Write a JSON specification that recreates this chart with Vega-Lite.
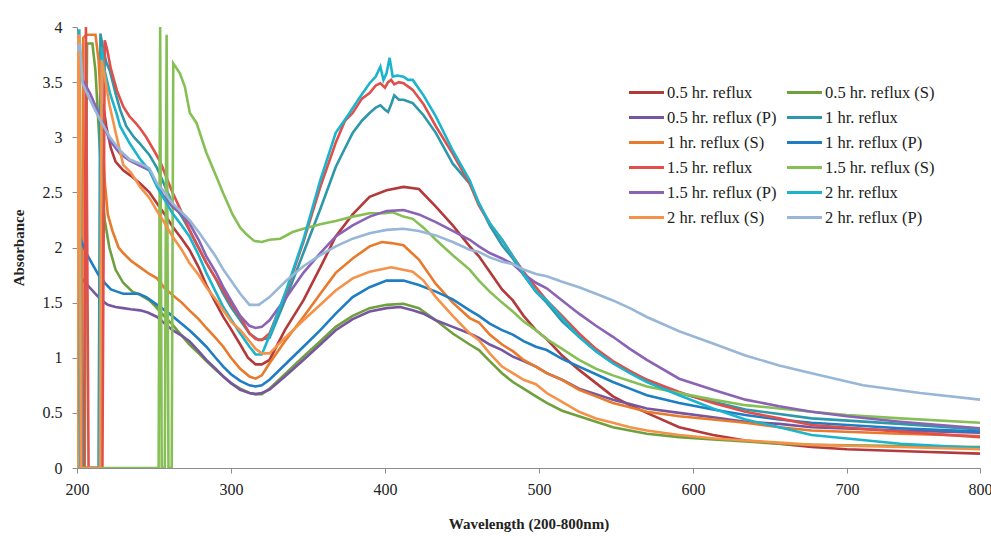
{
"$schema":"https://vega.github.io/schema/vega-lite/v6.json",
"width":903,"height":441,
"autosize":{"type":"none"},
"padding":{"left":77,"top":27,"right":11,"bottom":68},
"background":"white",
"config":{"view":{"stroke":null},"font":"Liberation Serif"},
"data":{"values":[
{"s":"0.5 hr. reflux","x":200,"y":0},{"s":"0.5 hr. reflux","x":215.5,"y":0},{"s":"0.5 hr. reflux","x":217,"y":3.3},{"s":"0.5 hr. reflux","x":219,"y":3.1},{"s":"0.5 hr. reflux","x":222,"y":2.9},{"s":"0.5 hr. reflux","x":225,"y":2.78},{"s":"0.5 hr. reflux","x":230,"y":2.7},{"s":"0.5 hr. reflux","x":235,"y":2.65},{"s":"0.5 hr. reflux","x":241,"y":2.58},{"s":"0.5 hr. reflux","x":247,"y":2.5},{"s":"0.5 hr. reflux","x":252,"y":2.4},{"s":"0.5 hr. reflux","x":257,"y":2.3},{"s":"0.5 hr. reflux","x":262,"y":2.19},{"s":"0.5 hr. reflux","x":268,"y":2.08},{"s":"0.5 hr. reflux","x":273,"y":1.98},{"s":"0.5 hr. reflux","x":279,"y":1.82},{"s":"0.5 hr. reflux","x":284,"y":1.66},{"s":"0.5 hr. reflux","x":290,"y":1.5},{"s":"0.5 hr. reflux","x":295,"y":1.37},{"s":"0.5 hr. reflux","x":300,"y":1.26},{"s":"0.5 hr. reflux","x":306,"y":1.12},{"s":"0.5 hr. reflux","x":311,"y":1.0},{"s":"0.5 hr. reflux","x":316,"y":0.94},{"s":"0.5 hr. reflux","x":320,"y":0.94},{"s":"0.5 hr. reflux","x":325,"y":0.98},{"s":"0.5 hr. reflux","x":335,"y":1.25},{"s":"0.5 hr. reflux","x":347,"y":1.52},{"s":"0.5 hr. reflux","x":358,"y":1.82},{"s":"0.5 hr. reflux","x":368,"y":2.1},{"s":"0.5 hr. reflux","x":379,"y":2.3},{"s":"0.5 hr. reflux","x":390,"y":2.46},{"s":"0.5 hr. reflux","x":401,"y":2.52},{"s":"0.5 hr. reflux","x":412,"y":2.55},{"s":"0.5 hr. reflux","x":422,"y":2.53},{"s":"0.5 hr. reflux","x":433,"y":2.37},{"s":"0.5 hr. reflux","x":444,"y":2.2},{"s":"0.5 hr. reflux","x":455,"y":2.01},{"s":"0.5 hr. reflux","x":461,"y":1.92},{"s":"0.5 hr. reflux","x":468,"y":1.78},{"s":"0.5 hr. reflux","x":476,"y":1.62},{"s":"0.5 hr. reflux","x":483,"y":1.52},{"s":"0.5 hr. reflux","x":490,"y":1.38},{"s":"0.5 hr. reflux","x":498,"y":1.25},{"s":"0.5 hr. reflux","x":505,"y":1.17},{"s":"0.5 hr. reflux","x":515,"y":1.02},{"s":"0.5 hr. reflux","x":526,"y":0.89},{"s":"0.5 hr. reflux","x":537,"y":0.77},{"s":"0.5 hr. reflux","x":548,"y":0.65},{"s":"0.5 hr. reflux","x":559,"y":0.57},{"s":"0.5 hr. reflux","x":570,"y":0.5},{"s":"0.5 hr. reflux","x":591,"y":0.37},{"s":"0.5 hr. reflux","x":613,"y":0.3},{"s":"0.5 hr. reflux","x":634,"y":0.25},{"s":"0.5 hr. reflux","x":656,"y":0.22},{"s":"0.5 hr. reflux","x":677,"y":0.19},{"s":"0.5 hr. reflux","x":700,"y":0.17},{"s":"0.5 hr. reflux","x":750,"y":0.15},{"s":"0.5 hr. reflux","x":800,"y":0.13},
{"s":"0.5 hr. reflux (S)","x":200,"y":0},{"s":"0.5 hr. reflux (S)","x":205,"y":0},{"s":"0.5 hr. reflux (S)","x":206.5,"y":3.85},{"s":"0.5 hr. reflux (S)","x":210,"y":3.85},{"s":"0.5 hr. reflux (S)","x":212,"y":3.6},{"s":"0.5 hr. reflux (S)","x":214,"y":3.1},{"s":"0.5 hr. reflux (S)","x":216,"y":2.6},{"s":"0.5 hr. reflux (S)","x":218,"y":2.25},{"s":"0.5 hr. reflux (S)","x":221,"y":2.0},{"s":"0.5 hr. reflux (S)","x":225,"y":1.8},{"s":"0.5 hr. reflux (S)","x":230,"y":1.68},{"s":"0.5 hr. reflux (S)","x":236,"y":1.6},{"s":"0.5 hr. reflux (S)","x":241,"y":1.57},{"s":"0.5 hr. reflux (S)","x":247,"y":1.52},{"s":"0.5 hr. reflux (S)","x":252,"y":1.45},{"s":"0.5 hr. reflux (S)","x":257,"y":1.37},{"s":"0.5 hr. reflux (S)","x":262,"y":1.3},{"s":"0.5 hr. reflux (S)","x":268,"y":1.2},{"s":"0.5 hr. reflux (S)","x":273,"y":1.12},{"s":"0.5 hr. reflux (S)","x":279,"y":1.04},{"s":"0.5 hr. reflux (S)","x":284,"y":0.97},{"s":"0.5 hr. reflux (S)","x":290,"y":0.89},{"s":"0.5 hr. reflux (S)","x":295,"y":0.83},{"s":"0.5 hr. reflux (S)","x":300,"y":0.77},{"s":"0.5 hr. reflux (S)","x":306,"y":0.72},{"s":"0.5 hr. reflux (S)","x":312,"y":0.68},{"s":"0.5 hr. reflux (S)","x":316,"y":0.67},{"s":"0.5 hr. reflux (S)","x":320,"y":0.67},{"s":"0.5 hr. reflux (S)","x":325,"y":0.72},{"s":"0.5 hr. reflux (S)","x":335,"y":0.85},{"s":"0.5 hr. reflux (S)","x":347,"y":1.01},{"s":"0.5 hr. reflux (S)","x":358,"y":1.15},{"s":"0.5 hr. reflux (S)","x":368,"y":1.28},{"s":"0.5 hr. reflux (S)","x":379,"y":1.38},{"s":"0.5 hr. reflux (S)","x":390,"y":1.45},{"s":"0.5 hr. reflux (S)","x":401,"y":1.48},{"s":"0.5 hr. reflux (S)","x":412,"y":1.49},{"s":"0.5 hr. reflux (S)","x":422,"y":1.45},{"s":"0.5 hr. reflux (S)","x":433,"y":1.34},{"s":"0.5 hr. reflux (S)","x":444,"y":1.22},{"s":"0.5 hr. reflux (S)","x":455,"y":1.12},{"s":"0.5 hr. reflux (S)","x":461,"y":1.07},{"s":"0.5 hr. reflux (S)","x":468,"y":0.97},{"s":"0.5 hr. reflux (S)","x":476,"y":0.86},{"s":"0.5 hr. reflux (S)","x":483,"y":0.78},{"s":"0.5 hr. reflux (S)","x":490,"y":0.72},{"s":"0.5 hr. reflux (S)","x":498,"y":0.65},{"s":"0.5 hr. reflux (S)","x":505,"y":0.59},{"s":"0.5 hr. reflux (S)","x":515,"y":0.52},{"s":"0.5 hr. reflux (S)","x":526,"y":0.47},{"s":"0.5 hr. reflux (S)","x":537,"y":0.42},{"s":"0.5 hr. reflux (S)","x":548,"y":0.37},{"s":"0.5 hr. reflux (S)","x":559,"y":0.34},{"s":"0.5 hr. reflux (S)","x":570,"y":0.31},{"s":"0.5 hr. reflux (S)","x":591,"y":0.28},{"s":"0.5 hr. reflux (S)","x":613,"y":0.26},{"s":"0.5 hr. reflux (S)","x":634,"y":0.24},{"s":"0.5 hr. reflux (S)","x":656,"y":0.22},{"s":"0.5 hr. reflux (S)","x":677,"y":0.21},{"s":"0.5 hr. reflux (S)","x":740,"y":0.2},{"s":"0.5 hr. reflux (S)","x":800,"y":0.19},
{"s":"0.5 hr. reflux (P)","x":200,"y":1.81},{"s":"0.5 hr. reflux (P)","x":204,"y":1.7},{"s":"0.5 hr. reflux (P)","x":208,"y":1.64},{"s":"0.5 hr. reflux (P)","x":212,"y":1.58},{"s":"0.5 hr. reflux (P)","x":216,"y":1.52},{"s":"0.5 hr. reflux (P)","x":220,"y":1.48},{"s":"0.5 hr. reflux (P)","x":225,"y":1.46},{"s":"0.5 hr. reflux (P)","x":230,"y":1.45},{"s":"0.5 hr. reflux (P)","x":235,"y":1.44},{"s":"0.5 hr. reflux (P)","x":241,"y":1.43},{"s":"0.5 hr. reflux (P)","x":246,"y":1.41},{"s":"0.5 hr. reflux (P)","x":252,"y":1.37},{"s":"0.5 hr. reflux (P)","x":257,"y":1.31},{"s":"0.5 hr. reflux (P)","x":262,"y":1.25},{"s":"0.5 hr. reflux (P)","x":268,"y":1.2},{"s":"0.5 hr. reflux (P)","x":273,"y":1.15},{"s":"0.5 hr. reflux (P)","x":279,"y":1.06},{"s":"0.5 hr. reflux (P)","x":284,"y":0.98},{"s":"0.5 hr. reflux (P)","x":290,"y":0.9},{"s":"0.5 hr. reflux (P)","x":295,"y":0.83},{"s":"0.5 hr. reflux (P)","x":300,"y":0.77},{"s":"0.5 hr. reflux (P)","x":306,"y":0.71},{"s":"0.5 hr. reflux (P)","x":312,"y":0.68},{"s":"0.5 hr. reflux (P)","x":316,"y":0.67},{"s":"0.5 hr. reflux (P)","x":320,"y":0.68},{"s":"0.5 hr. reflux (P)","x":325,"y":0.71},{"s":"0.5 hr. reflux (P)","x":335,"y":0.83},{"s":"0.5 hr. reflux (P)","x":347,"y":0.98},{"s":"0.5 hr. reflux (P)","x":358,"y":1.12},{"s":"0.5 hr. reflux (P)","x":368,"y":1.25},{"s":"0.5 hr. reflux (P)","x":379,"y":1.35},{"s":"0.5 hr. reflux (P)","x":390,"y":1.42},{"s":"0.5 hr. reflux (P)","x":401,"y":1.45},{"s":"0.5 hr. reflux (P)","x":410,"y":1.46},{"s":"0.5 hr. reflux (P)","x":418,"y":1.43},{"s":"0.5 hr. reflux (P)","x":425,"y":1.4},{"s":"0.5 hr. reflux (P)","x":433,"y":1.34},{"s":"0.5 hr. reflux (P)","x":444,"y":1.28},{"s":"0.5 hr. reflux (P)","x":455,"y":1.22},{"s":"0.5 hr. reflux (P)","x":461,"y":1.18},{"s":"0.5 hr. reflux (P)","x":468,"y":1.12},{"s":"0.5 hr. reflux (P)","x":476,"y":1.07},{"s":"0.5 hr. reflux (P)","x":483,"y":1.01},{"s":"0.5 hr. reflux (P)","x":490,"y":0.97},{"s":"0.5 hr. reflux (P)","x":498,"y":0.92},{"s":"0.5 hr. reflux (P)","x":505,"y":0.86},{"s":"0.5 hr. reflux (P)","x":515,"y":0.8},{"s":"0.5 hr. reflux (P)","x":526,"y":0.72},{"s":"0.5 hr. reflux (P)","x":537,"y":0.67},{"s":"0.5 hr. reflux (P)","x":548,"y":0.62},{"s":"0.5 hr. reflux (P)","x":559,"y":0.58},{"s":"0.5 hr. reflux (P)","x":570,"y":0.54},{"s":"0.5 hr. reflux (P)","x":591,"y":0.5},{"s":"0.5 hr. reflux (P)","x":613,"y":0.46},{"s":"0.5 hr. reflux (P)","x":634,"y":0.42},{"s":"0.5 hr. reflux (P)","x":656,"y":0.4},{"s":"0.5 hr. reflux (P)","x":677,"y":0.37},{"s":"0.5 hr. reflux (P)","x":740,"y":0.34},{"s":"0.5 hr. reflux (P)","x":800,"y":0.32},
{"s":"1 hr. reflux","x":200,"y":0},{"s":"1 hr. reflux","x":200.8,"y":3.9},{"s":"1 hr. reflux","x":202,"y":0},{"s":"1 hr. reflux","x":214,"y":0},{"s":"1 hr. reflux","x":215.2,"y":3.94},{"s":"1 hr. reflux","x":217,"y":3.8},{"s":"1 hr. reflux","x":219,"y":3.68},{"s":"1 hr. reflux","x":221.4,"y":3.6},{"s":"1 hr. reflux","x":225,"y":3.4},{"s":"1 hr. reflux","x":228,"y":3.25},{"s":"1 hr. reflux","x":232,"y":3.1},{"s":"1 hr. reflux","x":237,"y":3.0},{"s":"1 hr. reflux","x":241,"y":2.94},{"s":"1 hr. reflux","x":247,"y":2.84},{"s":"1 hr. reflux","x":252,"y":2.72},{"s":"1 hr. reflux","x":257,"y":2.56},{"s":"1 hr. reflux","x":262,"y":2.4},{"s":"1 hr. reflux","x":268,"y":2.28},{"s":"1 hr. reflux","x":273,"y":2.16},{"s":"1 hr. reflux","x":279,"y":2.0},{"s":"1 hr. reflux","x":284,"y":1.86},{"s":"1 hr. reflux","x":290,"y":1.72},{"s":"1 hr. reflux","x":295,"y":1.58},{"s":"1 hr. reflux","x":300,"y":1.46},{"s":"1 hr. reflux","x":306,"y":1.34},{"s":"1 hr. reflux","x":312,"y":1.22},{"s":"1 hr. reflux","x":318,"y":1.16},{"s":"1 hr. reflux","x":325,"y":1.18},{"s":"1 hr. reflux","x":336,"y":1.55},{"s":"1 hr. reflux","x":347,"y":1.95},{"s":"1 hr. reflux","x":358,"y":2.35},{"s":"1 hr. reflux","x":368,"y":2.73},{"s":"1 hr. reflux","x":374,"y":2.9},{"s":"1 hr. reflux","x":379,"y":3.04},{"s":"1 hr. reflux","x":385,"y":3.15},{"s":"1 hr. reflux","x":390,"y":3.22},{"s":"1 hr. reflux","x":394,"y":3.27},{"s":"1 hr. reflux","x":397,"y":3.29},{"s":"1 hr. reflux","x":400,"y":3.25},{"s":"1 hr. reflux","x":402,"y":3.23},{"s":"1 hr. reflux","x":404,"y":3.3},{"s":"1 hr. reflux","x":406,"y":3.38},{"s":"1 hr. reflux","x":409,"y":3.34},{"s":"1 hr. reflux","x":412,"y":3.34},{"s":"1 hr. reflux","x":416,"y":3.32},{"s":"1 hr. reflux","x":418,"y":3.31},{"s":"1 hr. reflux","x":425,"y":3.2},{"s":"1 hr. reflux","x":433,"y":3.04},{"s":"1 hr. reflux","x":444,"y":2.76},{"s":"1 hr. reflux","x":455,"y":2.58},{"s":"1 hr. reflux","x":461,"y":2.4},{"s":"1 hr. reflux","x":468,"y":2.2},{"s":"1 hr. reflux","x":476,"y":2.02},{"s":"1 hr. reflux","x":483,"y":1.9},{"s":"1 hr. reflux","x":490,"y":1.75},{"s":"1 hr. reflux","x":498,"y":1.6},{"s":"1 hr. reflux","x":505,"y":1.5},{"s":"1 hr. reflux","x":515,"y":1.33},{"s":"1 hr. reflux","x":526,"y":1.19},{"s":"1 hr. reflux","x":537,"y":1.06},{"s":"1 hr. reflux","x":548,"y":0.95},{"s":"1 hr. reflux","x":559,"y":0.87},{"s":"1 hr. reflux","x":570,"y":0.8},{"s":"1 hr. reflux","x":591,"y":0.68},{"s":"1 hr. reflux","x":613,"y":0.6},{"s":"1 hr. reflux","x":634,"y":0.53},{"s":"1 hr. reflux","x":656,"y":0.49},{"s":"1 hr. reflux","x":677,"y":0.45},{"s":"1 hr. reflux","x":740,"y":0.4},{"s":"1 hr. reflux","x":800,"y":0.35},
{"s":"1 hr. reflux (S)","x":200,"y":0},{"s":"1 hr. reflux (S)","x":203,"y":0},{"s":"1 hr. reflux (S)","x":204,"y":3.9},{"s":"1 hr. reflux (S)","x":206,"y":3.93},{"s":"1 hr. reflux (S)","x":212,"y":3.93},{"s":"1 hr. reflux (S)","x":214,"y":3.7},{"s":"1 hr. reflux (S)","x":216,"y":3.2},{"s":"1 hr. reflux (S)","x":218,"y":2.6},{"s":"1 hr. reflux (S)","x":220,"y":2.3},{"s":"1 hr. reflux (S)","x":223,"y":2.15},{"s":"1 hr. reflux (S)","x":227,"y":2.0},{"s":"1 hr. reflux (S)","x":230,"y":1.95},{"s":"1 hr. reflux (S)","x":235,"y":1.88},{"s":"1 hr. reflux (S)","x":241,"y":1.82},{"s":"1 hr. reflux (S)","x":247,"y":1.76},{"s":"1 hr. reflux (S)","x":252,"y":1.72},{"s":"1 hr. reflux (S)","x":257,"y":1.63},{"s":"1 hr. reflux (S)","x":262,"y":1.57},{"s":"1 hr. reflux (S)","x":268,"y":1.5},{"s":"1 hr. reflux (S)","x":273,"y":1.43},{"s":"1 hr. reflux (S)","x":279,"y":1.35},{"s":"1 hr. reflux (S)","x":284,"y":1.27},{"s":"1 hr. reflux (S)","x":290,"y":1.18},{"s":"1 hr. reflux (S)","x":295,"y":1.1},{"s":"1 hr. reflux (S)","x":300,"y":1.0},{"s":"1 hr. reflux (S)","x":306,"y":0.9},{"s":"1 hr. reflux (S)","x":312,"y":0.83},{"s":"1 hr. reflux (S)","x":316,"y":0.81},{"s":"1 hr. reflux (S)","x":320,"y":0.84},{"s":"1 hr. reflux (S)","x":325,"y":0.95},{"s":"1 hr. reflux (S)","x":335,"y":1.15},{"s":"1 hr. reflux (S)","x":347,"y":1.37},{"s":"1 hr. reflux (S)","x":358,"y":1.58},{"s":"1 hr. reflux (S)","x":368,"y":1.77},{"s":"1 hr. reflux (S)","x":379,"y":1.9},{"s":"1 hr. reflux (S)","x":390,"y":2.01},{"s":"1 hr. reflux (S)","x":398,"y":2.05},{"s":"1 hr. reflux (S)","x":404,"y":2.04},{"s":"1 hr. reflux (S)","x":412,"y":2.02},{"s":"1 hr. reflux (S)","x":422,"y":1.89},{"s":"1 hr. reflux (S)","x":433,"y":1.67},{"s":"1 hr. reflux (S)","x":444,"y":1.5},{"s":"1 hr. reflux (S)","x":455,"y":1.36},{"s":"1 hr. reflux (S)","x":461,"y":1.32},{"s":"1 hr. reflux (S)","x":468,"y":1.21},{"s":"1 hr. reflux (S)","x":476,"y":1.12},{"s":"1 hr. reflux (S)","x":483,"y":1.06},{"s":"1 hr. reflux (S)","x":490,"y":0.98},{"s":"1 hr. reflux (S)","x":498,"y":0.92},{"s":"1 hr. reflux (S)","x":505,"y":0.86},{"s":"1 hr. reflux (S)","x":515,"y":0.8},{"s":"1 hr. reflux (S)","x":526,"y":0.71},{"s":"1 hr. reflux (S)","x":537,"y":0.65},{"s":"1 hr. reflux (S)","x":548,"y":0.59},{"s":"1 hr. reflux (S)","x":559,"y":0.55},{"s":"1 hr. reflux (S)","x":570,"y":0.51},{"s":"1 hr. reflux (S)","x":591,"y":0.47},{"s":"1 hr. reflux (S)","x":613,"y":0.44},{"s":"1 hr. reflux (S)","x":634,"y":0.41},{"s":"1 hr. reflux (S)","x":656,"y":0.37},{"s":"1 hr. reflux (S)","x":677,"y":0.34},{"s":"1 hr. reflux (S)","x":740,"y":0.31},{"s":"1 hr. reflux (S)","x":800,"y":0.29},
{"s":"1 hr. reflux (P)","x":200,"y":2.2},{"s":"1 hr. reflux (P)","x":203,"y":2.05},{"s":"1 hr. reflux (P)","x":206,"y":1.95},{"s":"1 hr. reflux (P)","x":210,"y":1.85},{"s":"1 hr. reflux (P)","x":214,"y":1.75},{"s":"1 hr. reflux (P)","x":218,"y":1.68},{"s":"1 hr. reflux (P)","x":222,"y":1.62},{"s":"1 hr. reflux (P)","x":226,"y":1.6},{"s":"1 hr. reflux (P)","x":230,"y":1.58},{"s":"1 hr. reflux (P)","x":235,"y":1.58},{"s":"1 hr. reflux (P)","x":240,"y":1.58},{"s":"1 hr. reflux (P)","x":245,"y":1.55},{"s":"1 hr. reflux (P)","x":250,"y":1.5},{"s":"1 hr. reflux (P)","x":255,"y":1.45},{"s":"1 hr. reflux (P)","x":260,"y":1.4},{"s":"1 hr. reflux (P)","x":266,"y":1.33},{"s":"1 hr. reflux (P)","x":273,"y":1.25},{"s":"1 hr. reflux (P)","x":279,"y":1.17},{"s":"1 hr. reflux (P)","x":284,"y":1.1},{"s":"1 hr. reflux (P)","x":290,"y":1.0},{"s":"1 hr. reflux (P)","x":295,"y":0.92},{"s":"1 hr. reflux (P)","x":300,"y":0.85},{"s":"1 hr. reflux (P)","x":306,"y":0.79},{"s":"1 hr. reflux (P)","x":312,"y":0.75},{"s":"1 hr. reflux (P)","x":316,"y":0.74},{"s":"1 hr. reflux (P)","x":320,"y":0.75},{"s":"1 hr. reflux (P)","x":325,"y":0.8},{"s":"1 hr. reflux (P)","x":336,"y":0.95},{"s":"1 hr. reflux (P)","x":347,"y":1.1},{"s":"1 hr. reflux (P)","x":358,"y":1.25},{"s":"1 hr. reflux (P)","x":368,"y":1.4},{"s":"1 hr. reflux (P)","x":379,"y":1.55},{"s":"1 hr. reflux (P)","x":390,"y":1.64},{"s":"1 hr. reflux (P)","x":401,"y":1.7},{"s":"1 hr. reflux (P)","x":412,"y":1.7},{"s":"1 hr. reflux (P)","x":422,"y":1.66},{"s":"1 hr. reflux (P)","x":433,"y":1.6},{"s":"1 hr. reflux (P)","x":444,"y":1.53},{"s":"1 hr. reflux (P)","x":455,"y":1.43},{"s":"1 hr. reflux (P)","x":461,"y":1.38},{"s":"1 hr. reflux (P)","x":468,"y":1.31},{"s":"1 hr. reflux (P)","x":476,"y":1.25},{"s":"1 hr. reflux (P)","x":483,"y":1.21},{"s":"1 hr. reflux (P)","x":490,"y":1.15},{"s":"1 hr. reflux (P)","x":498,"y":1.1},{"s":"1 hr. reflux (P)","x":505,"y":1.07},{"s":"1 hr. reflux (P)","x":515,"y":0.99},{"s":"1 hr. reflux (P)","x":526,"y":0.92},{"s":"1 hr. reflux (P)","x":537,"y":0.85},{"s":"1 hr. reflux (P)","x":548,"y":0.78},{"s":"1 hr. reflux (P)","x":559,"y":0.72},{"s":"1 hr. reflux (P)","x":570,"y":0.66},{"s":"1 hr. reflux (P)","x":591,"y":0.59},{"s":"1 hr. reflux (P)","x":613,"y":0.53},{"s":"1 hr. reflux (P)","x":634,"y":0.48},{"s":"1 hr. reflux (P)","x":656,"y":0.44},{"s":"1 hr. reflux (P)","x":677,"y":0.41},{"s":"1 hr. reflux (P)","x":740,"y":0.36},{"s":"1 hr. reflux (P)","x":800,"y":0.33},
{"s":"1.5 hr. reflux","x":200,"y":0},{"s":"1.5 hr. reflux","x":204.5,"y":0},{"s":"1.5 hr. reflux","x":205.8,"y":4.0},{"s":"1.5 hr. reflux","x":207.5,"y":0},{"s":"1.5 hr. reflux","x":216.5,"y":0},{"s":"1.5 hr. reflux","x":218,"y":3.88},{"s":"1.5 hr. reflux","x":219.5,"y":3.8},{"s":"1.5 hr. reflux","x":222,"y":3.62},{"s":"1.5 hr. reflux","x":226,"y":3.42},{"s":"1.5 hr. reflux","x":230,"y":3.28},{"s":"1.5 hr. reflux","x":234,"y":3.19},{"s":"1.5 hr. reflux","x":238,"y":3.13},{"s":"1.5 hr. reflux","x":241,"y":3.08},{"s":"1.5 hr. reflux","x":245,"y":3.0},{"s":"1.5 hr. reflux","x":250,"y":2.88},{"s":"1.5 hr. reflux","x":254,"y":2.78},{"s":"1.5 hr. reflux","x":258,"y":2.64},{"s":"1.5 hr. reflux","x":262,"y":2.5},{"s":"1.5 hr. reflux","x":268,"y":2.32},{"s":"1.5 hr. reflux","x":273,"y":2.16},{"s":"1.5 hr. reflux","x":278,"y":2.02},{"s":"1.5 hr. reflux","x":284,"y":1.86},{"s":"1.5 hr. reflux","x":290,"y":1.72},{"s":"1.5 hr. reflux","x":295,"y":1.61},{"s":"1.5 hr. reflux","x":300,"y":1.49},{"s":"1.5 hr. reflux","x":306,"y":1.37},{"s":"1.5 hr. reflux","x":312,"y":1.22},{"s":"1.5 hr. reflux","x":316,"y":1.17},{"s":"1.5 hr. reflux","x":320,"y":1.16},{"s":"1.5 hr. reflux","x":325,"y":1.22},{"s":"1.5 hr. reflux","x":336,"y":1.6},{"s":"1.5 hr. reflux","x":347,"y":2.05},{"s":"1.5 hr. reflux","x":358,"y":2.55},{"s":"1.5 hr. reflux","x":368,"y":2.95},{"s":"1.5 hr. reflux","x":374,"y":3.15},{"s":"1.5 hr. reflux","x":379,"y":3.22},{"s":"1.5 hr. reflux","x":385,"y":3.35},{"s":"1.5 hr. reflux","x":390,"y":3.4},{"s":"1.5 hr. reflux","x":394,"y":3.47},{"s":"1.5 hr. reflux","x":397,"y":3.49},{"s":"1.5 hr. reflux","x":400,"y":3.45},{"s":"1.5 hr. reflux","x":402,"y":3.5},{"s":"1.5 hr. reflux","x":404,"y":3.52},{"s":"1.5 hr. reflux","x":406,"y":3.48},{"s":"1.5 hr. reflux","x":409,"y":3.5},{"s":"1.5 hr. reflux","x":412,"y":3.49},{"s":"1.5 hr. reflux","x":416,"y":3.45},{"s":"1.5 hr. reflux","x":418,"y":3.43},{"s":"1.5 hr. reflux","x":425,"y":3.3},{"s":"1.5 hr. reflux","x":433,"y":3.1},{"s":"1.5 hr. reflux","x":444,"y":2.85},{"s":"1.5 hr. reflux","x":455,"y":2.58},{"s":"1.5 hr. reflux","x":461,"y":2.38},{"s":"1.5 hr. reflux","x":468,"y":2.22},{"s":"1.5 hr. reflux","x":476,"y":2.07},{"s":"1.5 hr. reflux","x":483,"y":1.92},{"s":"1.5 hr. reflux","x":490,"y":1.78},{"s":"1.5 hr. reflux","x":498,"y":1.64},{"s":"1.5 hr. reflux","x":505,"y":1.52},{"s":"1.5 hr. reflux","x":515,"y":1.38},{"s":"1.5 hr. reflux","x":526,"y":1.22},{"s":"1.5 hr. reflux","x":537,"y":1.08},{"s":"1.5 hr. reflux","x":548,"y":0.97},{"s":"1.5 hr. reflux","x":559,"y":0.88},{"s":"1.5 hr. reflux","x":570,"y":0.8},{"s":"1.5 hr. reflux","x":591,"y":0.69},{"s":"1.5 hr. reflux","x":613,"y":0.59},{"s":"1.5 hr. reflux","x":634,"y":0.51},{"s":"1.5 hr. reflux","x":656,"y":0.45},{"s":"1.5 hr. reflux","x":677,"y":0.39},{"s":"1.5 hr. reflux","x":740,"y":0.33},{"s":"1.5 hr. reflux","x":800,"y":0.28},
{"s":"1.5 hr. reflux (S)","x":200,"y":0},{"s":"1.5 hr. reflux (S)","x":253,"y":0},{"s":"1.5 hr. reflux (S)","x":254,"y":4.0},{"s":"1.5 hr. reflux (S)","x":255,"y":0},{"s":"1.5 hr. reflux (S)","x":257,"y":0},{"s":"1.5 hr. reflux (S)","x":258.2,"y":3.93},{"s":"1.5 hr. reflux (S)","x":259.4,"y":0},{"s":"1.5 hr. reflux (S)","x":261.5,"y":0},{"s":"1.5 hr. reflux (S)","x":262.5,"y":3.67},{"s":"1.5 hr. reflux (S)","x":264,"y":3.64},{"s":"1.5 hr. reflux (S)","x":266.8,"y":3.58},{"s":"1.5 hr. reflux (S)","x":270,"y":3.46},{"s":"1.5 hr. reflux (S)","x":273.3,"y":3.22},{"s":"1.5 hr. reflux (S)","x":277.6,"y":3.13},{"s":"1.5 hr. reflux (S)","x":284,"y":2.86},{"s":"1.5 hr. reflux (S)","x":290.6,"y":2.64},{"s":"1.5 hr. reflux (S)","x":295,"y":2.49},{"s":"1.5 hr. reflux (S)","x":301,"y":2.3},{"s":"1.5 hr. reflux (S)","x":306,"y":2.18},{"s":"1.5 hr. reflux (S)","x":310,"y":2.12},{"s":"1.5 hr. reflux (S)","x":315,"y":2.06},{"s":"1.5 hr. reflux (S)","x":320,"y":2.05},{"s":"1.5 hr. reflux (S)","x":325,"y":2.07},{"s":"1.5 hr. reflux (S)","x":332,"y":2.08},{"s":"1.5 hr. reflux (S)","x":340,"y":2.14},{"s":"1.5 hr. reflux (S)","x":347,"y":2.17},{"s":"1.5 hr. reflux (S)","x":358,"y":2.21},{"s":"1.5 hr. reflux (S)","x":368,"y":2.24},{"s":"1.5 hr. reflux (S)","x":379,"y":2.28},{"s":"1.5 hr. reflux (S)","x":390,"y":2.31},{"s":"1.5 hr. reflux (S)","x":400,"y":2.31},{"s":"1.5 hr. reflux (S)","x":405,"y":2.32},{"s":"1.5 hr. reflux (S)","x":412,"y":2.28},{"s":"1.5 hr. reflux (S)","x":418,"y":2.26},{"s":"1.5 hr. reflux (S)","x":425,"y":2.18},{"s":"1.5 hr. reflux (S)","x":433,"y":2.07},{"s":"1.5 hr. reflux (S)","x":444,"y":1.93},{"s":"1.5 hr. reflux (S)","x":455,"y":1.8},{"s":"1.5 hr. reflux (S)","x":461,"y":1.7},{"s":"1.5 hr. reflux (S)","x":468,"y":1.6},{"s":"1.5 hr. reflux (S)","x":476,"y":1.5},{"s":"1.5 hr. reflux (S)","x":483,"y":1.42},{"s":"1.5 hr. reflux (S)","x":490,"y":1.33},{"s":"1.5 hr. reflux (S)","x":498,"y":1.25},{"s":"1.5 hr. reflux (S)","x":505,"y":1.17},{"s":"1.5 hr. reflux (S)","x":515,"y":1.08},{"s":"1.5 hr. reflux (S)","x":526,"y":0.98},{"s":"1.5 hr. reflux (S)","x":537,"y":0.9},{"s":"1.5 hr. reflux (S)","x":548,"y":0.84},{"s":"1.5 hr. reflux (S)","x":559,"y":0.79},{"s":"1.5 hr. reflux (S)","x":570,"y":0.74},{"s":"1.5 hr. reflux (S)","x":591,"y":0.68},{"s":"1.5 hr. reflux (S)","x":613,"y":0.62},{"s":"1.5 hr. reflux (S)","x":634,"y":0.57},{"s":"1.5 hr. reflux (S)","x":656,"y":0.54},{"s":"1.5 hr. reflux (S)","x":677,"y":0.51},{"s":"1.5 hr. reflux (S)","x":700,"y":0.48},{"s":"1.5 hr. reflux (S)","x":740,"y":0.45},{"s":"1.5 hr. reflux (S)","x":800,"y":0.41},
{"s":"1.5 hr. reflux (P)","x":200,"y":3.5},{"s":"1.5 hr. reflux (P)","x":203.6,"y":3.52},{"s":"1.5 hr. reflux (P)","x":208.4,"y":3.4},{"s":"1.5 hr. reflux (P)","x":214.9,"y":3.19},{"s":"1.5 hr. reflux (P)","x":221.4,"y":2.97},{"s":"1.5 hr. reflux (P)","x":228,"y":2.85},{"s":"1.5 hr. reflux (P)","x":234,"y":2.79},{"s":"1.5 hr. reflux (P)","x":241,"y":2.74},{"s":"1.5 hr. reflux (P)","x":247,"y":2.7},{"s":"1.5 hr. reflux (P)","x":252,"y":2.56},{"s":"1.5 hr. reflux (P)","x":257,"y":2.45},{"s":"1.5 hr. reflux (P)","x":262,"y":2.37},{"s":"1.5 hr. reflux (P)","x":268,"y":2.3},{"s":"1.5 hr. reflux (P)","x":273,"y":2.22},{"s":"1.5 hr. reflux (P)","x":279,"y":2.07},{"s":"1.5 hr. reflux (P)","x":284,"y":1.92},{"s":"1.5 hr. reflux (P)","x":290,"y":1.78},{"s":"1.5 hr. reflux (P)","x":295,"y":1.64},{"s":"1.5 hr. reflux (P)","x":300,"y":1.52},{"s":"1.5 hr. reflux (P)","x":306,"y":1.38},{"s":"1.5 hr. reflux (P)","x":312,"y":1.29},{"s":"1.5 hr. reflux (P)","x":316,"y":1.27},{"s":"1.5 hr. reflux (P)","x":320,"y":1.28},{"s":"1.5 hr. reflux (P)","x":325,"y":1.34},{"s":"1.5 hr. reflux (P)","x":336,"y":1.55},{"s":"1.5 hr. reflux (P)","x":347,"y":1.77},{"s":"1.5 hr. reflux (P)","x":358,"y":1.95},{"s":"1.5 hr. reflux (P)","x":368,"y":2.1},{"s":"1.5 hr. reflux (P)","x":379,"y":2.2},{"s":"1.5 hr. reflux (P)","x":390,"y":2.28},{"s":"1.5 hr. reflux (P)","x":401,"y":2.33},{"s":"1.5 hr. reflux (P)","x":412,"y":2.34},{"s":"1.5 hr. reflux (P)","x":422,"y":2.3},{"s":"1.5 hr. reflux (P)","x":433,"y":2.23},{"s":"1.5 hr. reflux (P)","x":444,"y":2.15},{"s":"1.5 hr. reflux (P)","x":455,"y":2.07},{"s":"1.5 hr. reflux (P)","x":461,"y":2.01},{"s":"1.5 hr. reflux (P)","x":468,"y":1.95},{"s":"1.5 hr. reflux (P)","x":476,"y":1.9},{"s":"1.5 hr. reflux (P)","x":483,"y":1.85},{"s":"1.5 hr. reflux (P)","x":490,"y":1.76},{"s":"1.5 hr. reflux (P)","x":498,"y":1.68},{"s":"1.5 hr. reflux (P)","x":505,"y":1.63},{"s":"1.5 hr. reflux (P)","x":515,"y":1.52},{"s":"1.5 hr. reflux (P)","x":526,"y":1.4},{"s":"1.5 hr. reflux (P)","x":537,"y":1.29},{"s":"1.5 hr. reflux (P)","x":548,"y":1.19},{"s":"1.5 hr. reflux (P)","x":559,"y":1.08},{"s":"1.5 hr. reflux (P)","x":570,"y":0.98},{"s":"1.5 hr. reflux (P)","x":591,"y":0.81},{"s":"1.5 hr. reflux (P)","x":613,"y":0.71},{"s":"1.5 hr. reflux (P)","x":634,"y":0.62},{"s":"1.5 hr. reflux (P)","x":656,"y":0.56},{"s":"1.5 hr. reflux (P)","x":677,"y":0.51},{"s":"1.5 hr. reflux (P)","x":700,"y":0.47},{"s":"1.5 hr. reflux (P)","x":740,"y":0.42},{"s":"1.5 hr. reflux (P)","x":800,"y":0.36},
{"s":"2  hr. reflux","x":200,"y":0},{"s":"2  hr. reflux","x":200.5,"y":3.5},{"s":"2  hr. reflux","x":201.5,"y":3.98},{"s":"2  hr. reflux","x":203,"y":0},{"s":"2  hr. reflux","x":214.5,"y":0},{"s":"2  hr. reflux","x":216,"y":3.82},{"s":"2  hr. reflux","x":218,"y":3.6},{"s":"2  hr. reflux","x":221.4,"y":3.4},{"s":"2  hr. reflux","x":225.6,"y":3.22},{"s":"2  hr. reflux","x":228,"y":3.1},{"s":"2  hr. reflux","x":234,"y":2.95},{"s":"2  hr. reflux","x":241,"y":2.8},{"s":"2  hr. reflux","x":247,"y":2.7},{"s":"2  hr. reflux","x":252,"y":2.55},{"s":"2  hr. reflux","x":257,"y":2.43},{"s":"2  hr. reflux","x":262,"y":2.31},{"s":"2  hr. reflux","x":268,"y":2.2},{"s":"2  hr. reflux","x":273,"y":2.1},{"s":"2  hr. reflux","x":279,"y":1.93},{"s":"2  hr. reflux","x":284,"y":1.77},{"s":"2  hr. reflux","x":290,"y":1.6},{"s":"2  hr. reflux","x":295,"y":1.46},{"s":"2  hr. reflux","x":300,"y":1.35},{"s":"2  hr. reflux","x":306,"y":1.22},{"s":"2  hr. reflux","x":312,"y":1.1},{"s":"2  hr. reflux","x":316,"y":1.03},{"s":"2  hr. reflux","x":320,"y":1.03},{"s":"2  hr. reflux","x":325,"y":1.2},{"s":"2  hr. reflux","x":336,"y":1.62},{"s":"2  hr. reflux","x":347,"y":2.07},{"s":"2  hr. reflux","x":358,"y":2.61},{"s":"2  hr. reflux","x":368,"y":3.04},{"s":"2  hr. reflux","x":377,"y":3.22},{"s":"2  hr. reflux","x":383,"y":3.35},{"s":"2  hr. reflux","x":390,"y":3.49},{"s":"2  hr. reflux","x":394,"y":3.55},{"s":"2  hr. reflux","x":397,"y":3.64},{"s":"2  hr. reflux","x":399,"y":3.52},{"s":"2  hr. reflux","x":401,"y":3.58},{"s":"2  hr. reflux","x":403,"y":3.72},{"s":"2  hr. reflux","x":405,"y":3.55},{"s":"2  hr. reflux","x":408,"y":3.56},{"s":"2  hr. reflux","x":412,"y":3.55},{"s":"2  hr. reflux","x":415,"y":3.52},{"s":"2  hr. reflux","x":418,"y":3.52},{"s":"2  hr. reflux","x":425,"y":3.38},{"s":"2  hr. reflux","x":433,"y":3.19},{"s":"2  hr. reflux","x":444,"y":2.88},{"s":"2  hr. reflux","x":455,"y":2.61},{"s":"2  hr. reflux","x":461,"y":2.4},{"s":"2  hr. reflux","x":468,"y":2.22},{"s":"2  hr. reflux","x":476,"y":2.07},{"s":"2  hr. reflux","x":483,"y":1.92},{"s":"2  hr. reflux","x":490,"y":1.76},{"s":"2  hr. reflux","x":498,"y":1.6},{"s":"2  hr. reflux","x":505,"y":1.52},{"s":"2  hr. reflux","x":515,"y":1.36},{"s":"2  hr. reflux","x":526,"y":1.19},{"s":"2  hr. reflux","x":537,"y":1.06},{"s":"2  hr. reflux","x":548,"y":0.95},{"s":"2  hr. reflux","x":559,"y":0.86},{"s":"2  hr. reflux","x":570,"y":0.78},{"s":"2  hr. reflux","x":591,"y":0.66},{"s":"2  hr. reflux","x":613,"y":0.54},{"s":"2  hr. reflux","x":634,"y":0.44},{"s":"2  hr. reflux","x":656,"y":0.37},{"s":"2  hr. reflux","x":677,"y":0.3},{"s":"2  hr. reflux","x":740,"y":0.22},{"s":"2  hr. reflux","x":800,"y":0.18},
{"s":"2 hr. reflux (S)","x":200,"y":0},{"s":"2 hr. reflux (S)","x":200.5,"y":3.92},{"s":"2 hr. reflux (S)","x":201.5,"y":3.92},{"s":"2 hr. reflux (S)","x":202.5,"y":0},{"s":"2 hr. reflux (S)","x":215,"y":0},{"s":"2 hr. reflux (S)","x":216,"y":3.7},{"s":"2 hr. reflux (S)","x":218,"y":3.55},{"s":"2 hr. reflux (S)","x":221,"y":3.3},{"s":"2 hr. reflux (S)","x":225,"y":3.05},{"s":"2 hr. reflux (S)","x":230,"y":2.75},{"s":"2 hr. reflux (S)","x":235,"y":2.68},{"s":"2 hr. reflux (S)","x":241,"y":2.55},{"s":"2 hr. reflux (S)","x":247,"y":2.45},{"s":"2 hr. reflux (S)","x":252,"y":2.33},{"s":"2 hr. reflux (S)","x":257,"y":2.22},{"s":"2 hr. reflux (S)","x":262,"y":2.1},{"s":"2 hr. reflux (S)","x":268,"y":1.98},{"s":"2 hr. reflux (S)","x":273,"y":1.86},{"s":"2 hr. reflux (S)","x":279,"y":1.75},{"s":"2 hr. reflux (S)","x":284,"y":1.64},{"s":"2 hr. reflux (S)","x":290,"y":1.53},{"s":"2 hr. reflux (S)","x":295,"y":1.43},{"s":"2 hr. reflux (S)","x":300,"y":1.33},{"s":"2 hr. reflux (S)","x":306,"y":1.25},{"s":"2 hr. reflux (S)","x":312,"y":1.15},{"s":"2 hr. reflux (S)","x":316,"y":1.08},{"s":"2 hr. reflux (S)","x":320,"y":1.04},{"s":"2 hr. reflux (S)","x":325,"y":1.04},{"s":"2 hr. reflux (S)","x":335,"y":1.18},{"s":"2 hr. reflux (S)","x":347,"y":1.34},{"s":"2 hr. reflux (S)","x":358,"y":1.48},{"s":"2 hr. reflux (S)","x":368,"y":1.61},{"s":"2 hr. reflux (S)","x":379,"y":1.72},{"s":"2 hr. reflux (S)","x":390,"y":1.78},{"s":"2 hr. reflux (S)","x":404,"y":1.82},{"s":"2 hr. reflux (S)","x":418,"y":1.78},{"s":"2 hr. reflux (S)","x":425,"y":1.7},{"s":"2 hr. reflux (S)","x":433,"y":1.55},{"s":"2 hr. reflux (S)","x":444,"y":1.38},{"s":"2 hr. reflux (S)","x":455,"y":1.22},{"s":"2 hr. reflux (S)","x":461,"y":1.16},{"s":"2 hr. reflux (S)","x":468,"y":1.04},{"s":"2 hr. reflux (S)","x":476,"y":0.92},{"s":"2 hr. reflux (S)","x":483,"y":0.86},{"s":"2 hr. reflux (S)","x":490,"y":0.8},{"s":"2 hr. reflux (S)","x":498,"y":0.76},{"s":"2 hr. reflux (S)","x":505,"y":0.68},{"s":"2 hr. reflux (S)","x":515,"y":0.6},{"s":"2 hr. reflux (S)","x":526,"y":0.51},{"s":"2 hr. reflux (S)","x":537,"y":0.45},{"s":"2 hr. reflux (S)","x":548,"y":0.41},{"s":"2 hr. reflux (S)","x":559,"y":0.37},{"s":"2 hr. reflux (S)","x":570,"y":0.34},{"s":"2 hr. reflux (S)","x":591,"y":0.3},{"s":"2 hr. reflux (S)","x":613,"y":0.27},{"s":"2 hr. reflux (S)","x":634,"y":0.25},{"s":"2 hr. reflux (S)","x":656,"y":0.23},{"s":"2 hr. reflux (S)","x":677,"y":0.21},{"s":"2 hr. reflux (S)","x":740,"y":0.19},{"s":"2 hr. reflux (S)","x":800,"y":0.17},
{"s":"2 hr. reflux (P)","x":200,"y":3.78},{"s":"2 hr. reflux (P)","x":201,"y":3.82},{"s":"2 hr. reflux (P)","x":202,"y":3.85},{"s":"2 hr. reflux (P)","x":203.6,"y":3.49},{"s":"2 hr. reflux (P)","x":208.4,"y":3.34},{"s":"2 hr. reflux (P)","x":214.9,"y":3.16},{"s":"2 hr. reflux (P)","x":221.4,"y":3.0},{"s":"2 hr. reflux (P)","x":228,"y":2.88},{"s":"2 hr. reflux (P)","x":234,"y":2.8},{"s":"2 hr. reflux (P)","x":241,"y":2.76},{"s":"2 hr. reflux (P)","x":247,"y":2.72},{"s":"2 hr. reflux (P)","x":252,"y":2.58},{"s":"2 hr. reflux (P)","x":257,"y":2.5},{"s":"2 hr. reflux (P)","x":262,"y":2.4},{"s":"2 hr. reflux (P)","x":268,"y":2.32},{"s":"2 hr. reflux (P)","x":273,"y":2.25},{"s":"2 hr. reflux (P)","x":279,"y":2.14},{"s":"2 hr. reflux (P)","x":284,"y":2.04},{"s":"2 hr. reflux (P)","x":290,"y":1.92},{"s":"2 hr. reflux (P)","x":295,"y":1.8},{"s":"2 hr. reflux (P)","x":300,"y":1.7},{"s":"2 hr. reflux (P)","x":306,"y":1.58},{"s":"2 hr. reflux (P)","x":312,"y":1.48},{"s":"2 hr. reflux (P)","x":318,"y":1.48},{"s":"2 hr. reflux (P)","x":325,"y":1.55},{"s":"2 hr. reflux (P)","x":336,"y":1.7},{"s":"2 hr. reflux (P)","x":347,"y":1.83},{"s":"2 hr. reflux (P)","x":358,"y":1.93},{"s":"2 hr. reflux (P)","x":368,"y":2.01},{"s":"2 hr. reflux (P)","x":379,"y":2.08},{"s":"2 hr. reflux (P)","x":390,"y":2.13},{"s":"2 hr. reflux (P)","x":401,"y":2.16},{"s":"2 hr. reflux (P)","x":412,"y":2.17},{"s":"2 hr. reflux (P)","x":422,"y":2.15},{"s":"2 hr. reflux (P)","x":433,"y":2.11},{"s":"2 hr. reflux (P)","x":444,"y":2.05},{"s":"2 hr. reflux (P)","x":455,"y":1.98},{"s":"2 hr. reflux (P)","x":461,"y":1.96},{"s":"2 hr. reflux (P)","x":468,"y":1.91},{"s":"2 hr. reflux (P)","x":476,"y":1.87},{"s":"2 hr. reflux (P)","x":483,"y":1.85},{"s":"2 hr. reflux (P)","x":490,"y":1.8},{"s":"2 hr. reflux (P)","x":498,"y":1.76},{"s":"2 hr. reflux (P)","x":505,"y":1.74},{"s":"2 hr. reflux (P)","x":515,"y":1.69},{"s":"2 hr. reflux (P)","x":526,"y":1.64},{"s":"2 hr. reflux (P)","x":537,"y":1.58},{"s":"2 hr. reflux (P)","x":548,"y":1.52},{"s":"2 hr. reflux (P)","x":559,"y":1.45},{"s":"2 hr. reflux (P)","x":570,"y":1.37},{"s":"2 hr. reflux (P)","x":591,"y":1.24},{"s":"2 hr. reflux (P)","x":613,"y":1.13},{"s":"2 hr. reflux (P)","x":634,"y":1.02},{"s":"2 hr. reflux (P)","x":656,"y":0.93},{"s":"2 hr. reflux (P)","x":677,"y":0.86},{"s":"2 hr. reflux (P)","x":712,"y":0.75},{"s":"2 hr. reflux (P)","x":755,"y":0.68},{"s":"2 hr. reflux (P)","x":800,"y":0.62}
]},
"mark":{"type":"line","strokeWidth":2.6,"clip":true,"interpolate":"linear"},
"encoding":{
"x":{"field":"x","type":"quantitative",
 "scale":{"domain":[200,700,800],"range":[0,770,903],"nice":false,"zero":false},
 "axis":{"values":[200,300,400,500,600,700,800],"title":"Wavelength (200-800nm)","grid":false,"labelFlush":false,
  "domainColor":"#8c8c8c","tickColor":"#8c8c8c","tickSize":5,"labelPadding":8,
  "labelFont":"Liberation Serif","labelFontSize":16,"labelColor":"#222",
  "titleFont":"Liberation Serif","titleFontSize":15,"titleFontWeight":"bold","titleColor":"#222","titlePadding":19}},
"y":{"field":"y","type":"quantitative",
 "scale":{"domain":[0,4],"nice":false,"zero":true},
 "axis":{"values":[0,0.5,1,1.5,2,2.5,3,3.5,4],"format":"~g","title":"Absorbance","grid":false,"labelFlush":false,
  "domainColor":"#8c8c8c","tickColor":"#8c8c8c","tickSize":5,"labelPadding":10,
  "labelFont":"Liberation Serif","labelFontSize":16,"labelColor":"#222",
  "titleFont":"Liberation Serif","titleFontSize":15,"titleFontWeight":"bold","titleColor":"#222","titlePadding":16}},
"color":{"field":"s","type":"nominal",
 "scale":{"domain":["0.5 hr. reflux","0.5 hr. reflux (S)","0.5 hr. reflux (P)","1 hr. reflux","1 hr. reflux (S)","1 hr. reflux (P)","1.5 hr. reflux","1.5 hr. reflux (S)","1.5 hr. reflux (P)","2  hr. reflux","2 hr. reflux (S)","2 hr. reflux (P)"],
  "range":["#b3393b","#70a03d","#7756a0","#2c98aa","#e87a2c","#1f7ec3","#e14f4b","#86bf55","#8a63b5","#1cb4cc","#f59249","#98b6d8"]},
 "legend":{"title":null,"orient":"none","legendX":561,"legendY":57,"columns":2,"direction":"horizontal","columnPadding":4,"rowPadding":8,
  "symbolType":"M-2.5,0H2.5","symbolSize":196,"symbolStrokeWidth":3,"symbolFillColor":"transparent","labelOffset":12,
  "labelFont":"Liberation Serif","labelFontSize":16.5,"labelColor":"#222","labelLimit":200}}
}
}
